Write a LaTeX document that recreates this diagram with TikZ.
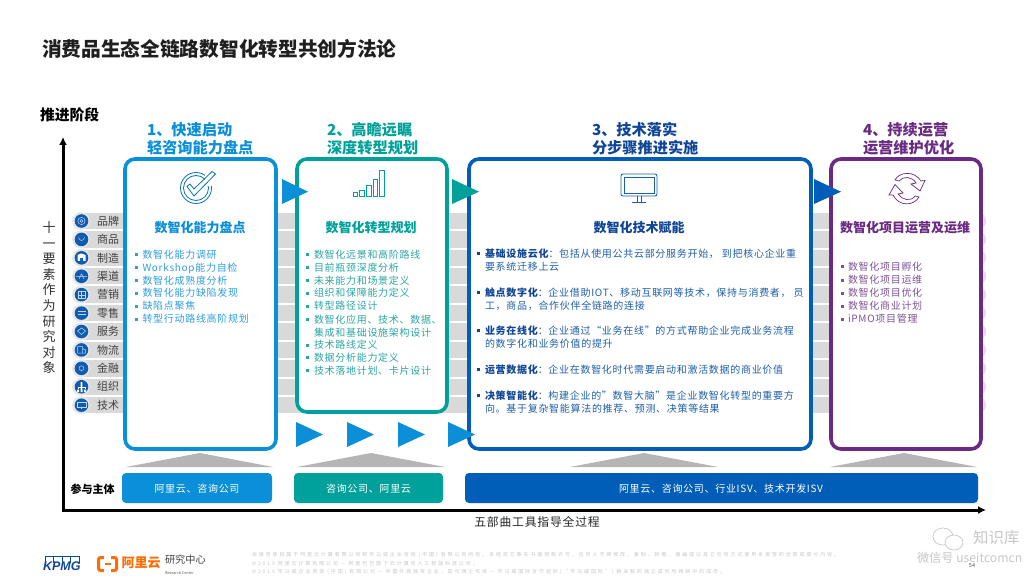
\documentclass[tikz,border=0pt]{standalone}
\usepackage{fontspec}
\setmainfont{Noto Sans CJK SC}
\newfontfamily\lsp[LetterSpace=7]{Noto Sans CJK SC}
\newfontfamily\lspw[LetterSpace=7]{Noto Sans CJK SC}
\newfontfamily\lsf[LetterSpace=38]{Noto Sans CJK SC}
\newfontfamily\kpfont{Liberation Sans}
\usetikzlibrary{arrows.meta}
\definecolor{cA}{HTML}{0A8FD8}
\definecolor{cB}{HTML}{00A19A}
\definecolor{cC}{HTML}{005EB8}
\definecolor{cD}{HTML}{6A2A82}
\definecolor{tA}{HTML}{2F9FDC}
\definecolor{tB}{HTML}{2BA6A0}
\definecolor{tC}{HTML}{1F5FA8}
\definecolor{tD}{HTML}{7E5396}
\definecolor{dC}{HTML}{0F4596}
\definecolor{strip}{HTML}{D9D9D9}
\definecolor{gtri}{HTML}{B5B5B5}
\definecolor{ring}{HTML}{E6E6E6}
\definecolor{iconb}{HTML}{0F5CB0}
\tikzset{
  txt/.style={inner sep=0pt,outer sep=0pt,text height=.82em,text depth=.08em},
  lft/.style={txt,anchor=west},
  stage/.style={lft,font=\bfseries\fontsize{15.2}{16}\selectfont},
  head/.style={txt,font=\bfseries\fontsize{13}{14}\selectfont},
  item/.style={lft,font=\lsp\fontsize{10}{12}\selectfont},
  itemw/.style={lft,font=\lspw\fontsize{10}{12}\selectfont},
  bigbox/.style={draw,line width=3.6pt,rounded corners=10pt,fill=white},
  arrowtri/.style={fill,draw=none},
  grayup/.style={fill=gtri,draw=none},
  actor/.style={rounded corners=4pt,draw=none},
  axis/.style={line width=3pt,black,-{Latex[length=8pt,width=8pt]}},
  rowlbl/.style={lft,font=\fontsize{11}{12}\selectfont,text=black!75},
  ico/.style={white,line width=.5pt,opacity=.75},
  foot/.style={lft,font=\lsf\fontsize{5}{6}\selectfont,text=black!22},
}
\begin{document}
\begin{tikzpicture}[x=1pt,y=-1pt]
\useasboundingbox[fill=white] (0,0) rectangle (1031,588);
% title
\node[lft,font=\bfseries\fontsize{19.7}{22}\selectfont,text=black!88] (title) at (42,52.5) {消费品生态全链路数智化转型共创方法论};
\node[lft,font=\bfseries\fontsize{14.8}{16}\selectfont] (stagehead) at (40,117) {推进阶段};
% vertical label
\foreach \c [count=\n from 0] in {十,一,要,素,作,为,研,究,对,象}
  \node[txt,font=\fontsize{13}{14}\selectfont,text=black!80] (v\n) at (49,{229+15.55*\n}) {\c};
% strips
\foreach \c [count=\n from 0] in {品牌,商品,制造,渠道,营销,零售,服务,物流,金融,组织,技术}{
  \fill[strip!85!white] ({986-8},{221+18.42*\n-8.2}) arc (-90:90:8.2) -- cycle;
  \fill[strip] (80,{221+18.42*\n-8.2}) rectangle (979,{221+18.42*\n+8.2});
  \fill[ring] (81,{221+18.42*\n}) circle (8.9);
  \fill[iconb] (81.5,{221+18.42*\n}) circle (6.8);
  \node[rowlbl] (row\n) at (97,{221.5+18.42*\n}) {\c};
}
% small icons in the row discs
\draw[ico] (81.5,221) circle (3.6) (81.5,221) circle (1.6);
\draw[ico] (78.5,237.5) .. controls (80,241.5) and (83,241.5) .. (84.5,237.5);
\fill[white] (77.5,261) -- (77.5,255) -- (81,253.5) -- (85.5,255) -- (85.5,261) -- (83,261) -- (83,258) -- (80,258) -- (80,261) -- cycle;
\draw[ico] (76,276.3) -- (87,276.3) (79,279) -- (81.5,274) -- (84,279);
\draw[ico] (78,291.5) rectangle (85,298.5) (81.5,291.5) -- (81.5,298.5) (78,295) -- (85,295);
\draw[ico] (77.5,311.5) -- (85.5,311.5) (77.5,314.5) -- (85.5,314.5);
\draw[ico] (77.5,331) -- (81.5,328) -- (85.5,331) -- (81.5,334.5) -- cycle;
\draw[ico] (77.5,346.5) rectangle (82.5,353) (82.5,348.5) -- (85.5,350) -- (85.5,353) -- (82.5,353);
\draw[ico] (81.5,368.2) circle (2.4);
\fill[white] (80.7,382) rectangle (82.3,390.5) (77,389.5) rectangle (79,392) (84,389.5) rectangle (86,392) (80.5,389.5) rectangle (82.5,392);
\draw[white,line width=.5pt] (78,389) -- (78,387) -- (85,387) -- (85,389);
\draw[ico] (77,402) rectangle (86,407.5) (81.5,407.5) -- (81.5,409);
% big boxes
\node[bigbox,draw=cA,minimum width=151pt,minimum height=290pt,inner sep=0pt] (boxA) at (200.5,304) {};
\node[bigbox,draw=cB,minimum width=150pt,minimum height=253pt,inner sep=0pt] (boxB) at (372,285.5) {};
\node[bigbox,draw=cC,minimum width=342pt,minimum height=290pt,inner sep=0pt] (boxC) at (640,304) {};
\node[bigbox,draw=cD,minimum width=150pt,minimum height=290pt,inner sep=0pt] (boxD) at (906,304) {};
% stage titles
\node[stage,text=cA] (sA1) at (147,131.5) {1、快速启动};
\node[stage,text=cA] (sA2) at (147,150) {轻咨询能力盘点};
\node[stage,text=cB] (sB1) at (327,131.5) {2、高瞻远瞩};
\node[stage,text=cB] (sB2) at (327,150) {深度转型规划};
\node[stage,text=dC] (sC1) at (592,131.5) {3、技术落实};
\node[stage,text=dC] (sC2) at (592,150) {分步骤推进实施};
\node[stage,text=cD] (sD1) at (863,131.5) {4、持续运营};
\node[stage,text=cD] (sD2) at (863,150) {运营维护优化};
% arrow triangles
\fill[arrowtri,cA] (282,179) -- (308,191.7) -- (282,204) -- cycle;
\fill[arrowtri,cB] (452,179) -- (479,191.7) -- (452,204) -- cycle;
\fill[arrowtri,cC] (814,179) -- (841,191.7) -- (814,204) -- cycle;
\foreach \x in {296,347,398,448}
  \fill[arrowtri,cA] (\x,422) -- (\x+27,434.5) -- (\x,447) -- cycle;
% gray up triangles
\fill[grayup] (126,467) -- (200,453) -- (273,467) -- cycle;
\fill[grayup] (297,467) -- (371,453) -- (445,467) -- cycle;
\fill[grayup] (570,467) -- (644,453) -- (718,467) -- cycle;
\fill[grayup] (830,467) -- (904,453) -- (977,467) -- cycle;
% icons in boxes
\begin{scope}[cA!85!black]
  \draw[line width=.8pt,cA!80!black] (196,188) circle (15.5) (196,188) circle (12.5);
  \fill[white] (205,170) rectangle (218,186);
  \draw[line width=.8pt,cA!80!black,line join=round] (187,186.5) -- (190,184) -- (194,189) -- (212,171.5) -- (215.5,174) -- (194,196) -- cycle;
\end{scope}
\foreach \a/\b/\t in {353/357/192,359.5/364/190,366/371/185,373/377/179,379/384/170}
  \draw[line width=.7pt,cB] (\a,\t) rectangle (\b,196.5);
\draw[line width=.9pt,tC,rounded corners=2pt] (621,174) rectangle (657,196);
\draw[line width=.6pt,tC] (624,177) rectangle (654,193);
\draw[line width=.9pt,tC] (637,196) -- (637,202) (641,196) -- (641,202) (632,202.5) -- (646,202.5);
% cycle icon
\draw[line width=.7pt,cD] (895,180) .. controls (899,172) and (914,170) .. (921,181) -- (925,180.5) -- (920,191) -- (911,184) -- (916,183) .. controls (912,176) and (903,176) .. (899,181) -- cycle;
\draw[line width=.7pt,cD] (919,197) .. controls (914,206) and (899,207) .. (893,195) -- (889,195) -- (895,184.5) -- (903,193) -- (898,194) .. controls (902,200) and (911,202) .. (915,196) -- cycle;
% headings
\node[head,text=cA] (hA) at (200,229) {数智化能力盘点};
\node[head,text=cB] (hB) at (371,229) {数智化转型规划};
\node[head,text=dC] (hC) at (639,229) {数智化技术赋能};
\node[head,text=cD] (hD) at (905,229) {数智化项目运营及运维};
% list A
\foreach \y/\t [count=\n] in {254.5/数智化能力调研,267.5/Workshop能力自检,280.5/数智化成熟度分析,293.2/数智化能力缺陷发现,306/缺陷点聚焦,319/转型行动路线高阶规划}{
  \fill[tA] (135,\y-1.5) rectangle +(3,3);
  \node[item,text=tA] (la\n) at (142.5,\y) {\t};
}
% list B
\foreach \y/\t [count=\n] in {254.5/数智化远景和高阶路线,267.5/目前瓶颈深度分析,280.5/未来能力和场景定义,293.2/组织和保障能力定义,306/转型路径设计,319.5/数智化应用、技术、数据、,345/技术路线定义,357.5/数据分析能力定义,370.5/技术落地计划、卡片设计}{
  \fill[tB] (306,\y-1.5) rectangle +(3,3);
  \node[item,text=tB] (lb\n) at (314,\y) {\t};
}
\node[item,text=tB] (lbx) at (314,332.5) {集成和基础设施架构设计};
% list C
\foreach \y/\b/\t [count=\n] in {253.5/基础设施云化/：包括从使用公共云部分服务开始， 到把核心企业重,292.5/触点数字化/：企业借助IOT、移动互联网等技术，保持与消费者， 员,330.5/业务在线化/：企业通过“业务在线”的方式帮助企业完成业务流程,369.5/运营数据化/：企业在数智化时代需要启动和激活数据的商业价值,395.5/决策智能化/：构建企业的”数智大脑”是企业数智化转型的重要方}{
  \fill[dC] (477,\y-1.5) rectangle +(3,3);
  \node[itemw,text=tC] (lc\n) at (485,\y) {{\bfseries\color{dC}\b}\t};
}
\node[itemw,text=tC] (lc1b) at (485,266.5) {要系统迁移上云};
\node[itemw,text=tC] (lc2b) at (485,305.5) {工，商品，合作伙伴全链路的连接};
\node[itemw,text=tC] (lc3b) at (485,343.5) {的数字化和业务价值的提升};
\node[itemw,text=tC] (lc5b) at (485,408.5) {向。基于复杂智能算法的推荐、预测、决策等结果};
% list D
\foreach \y/\t [count=\n] in {267/数智化项目孵化,280/数智化项目运维,293/数智化项目优化,306/数智化商业计划,319/iPMO项目管理}{
  \fill[tD] (841,\y-1.5) rectangle +(3,3);
  \node[item,text=tD] (ld\n) at (848,\y) {\t};
}
% actor bars
\node[txt,font=\bfseries\fontsize{11}{12}\selectfont] (actors) at (92.5,489.5) {参与主体};
\fill[actor,cA] (122,473) rectangle (272,503);
\coordinate (barA) at (197,488.5);
\fill[actor,cB] (294,473) rectangle (443,503);
\coordinate (barB) at (368.5,488.5);
\fill[actor,cC] (465,473) rectangle (978,503);
\coordinate (barC) at (721,488.5);
\node[txt,font=\lsp\fontsize{10}{12}\selectfont,text=white] (ta) at (barA) {阿里云、咨询公司};
\node[txt,font=\lsp\fontsize{10}{12}\selectfont,text=white] (tb) at (barB) {咨询公司、阿里云};
\node[txt,font=\lsp\fontsize{10}{12}\selectfont,text=white] (tc) at (barC) {阿里云、咨询公司、行业ISV、技术开发ISV};
% axes
\coordinate (origin) at (63,510);
\coordinate (ytip) at (63,137);
\coordinate (xtip) at (986,510);
\draw[axis] (63,511.5) -- (ytip);
\draw[axis] (61.5,510) -- (xtip);
\node[txt,font=\lsp\fontsize{11.8}{14}\selectfont,text=black!85] (tools) at (537,522.5) {五部曲工具指导全过程};
% footer text
\node[foot] (f1) at (252,552.5) {本报告版权属于阿里云计算有限公司和毕马威企业咨询 (中国) 有限公司所有，未经双方事先书面授权许可，任何人不得修改、复制、转载、摘编或以其它任何方式使用本报告的全部或部分内容。};
\node[foot] (f2) at (252,562) {©2019 阿里云计算有限公司 — 阿里巴巴旗下云计算及人工智能科技公司。};
\node[foot] (f3) at (252,570) {©2019 毕马威企业咨询 (中国) 有限公司 — 中国外商独资企业，是与瑞士实体 — 毕马威国际合作组织(“毕马威国际”) 相关联的独立成员所网络中的成员。};
% KPMG
\foreach \x in {45,53.5,62,70.5}
  \draw[line width=.4pt,cC!80!black] (\x,556) rectangle +(8.5,7);
\node[lft,font=\kpfont\bfseries\itshape\fontsize{12.5}{13}\selectfont,text=dC,fill=white,inner xsep=0pt] (kpmg) at (43,567) {KPMG};
% Alibaba
\draw[line width=3pt,orange!85!red,rounded corners=2pt] (104,557.5) -- (98.5,557.5) -- (98.5,570.5) -- (104,570.5);
\draw[line width=3pt,orange!85!red,rounded corners=2pt] (111,557.5) -- (116.5,557.5) -- (116.5,570.5) -- (111,570.5);
\draw[line width=1.5pt,orange!85!red] (104.5,564) -- (110.5,564);
\node[lft,font=\bfseries\fontsize{13}{14}\selectfont,text=orange!85!red] (ali) at (121.5,564) {阿里云};
\node[lft,font=\fontsize{10.2}{12}\selectfont,text=black!75] (rc) at (165,560) {研究中心};
\node[lft,font=\fontsize{3.8}{5}\selectfont,text=black!65] (rc2) at (165,570.3) {Research Center};
% watermark
\draw[line width=.7pt,black!22,fill=white] (943,536.5) ellipse (10 and 8.5);
\draw[line width=.7pt,black!22,fill=white] (954,542.5) ellipse (9 and 7.5);
\node[lft,font=\fontsize{15.5}{16}\selectfont,text=black!22] (wm1) at (973,540) {知识库};
\node[lft,font=\fontsize{12.2}{14}\selectfont,text=black!22] (wm2) at (917,559) {微信号 useitcomcn};
\node[txt,font=\fontsize{5.5}{6}\selectfont,text=black!70] (pg) at (972,564) {54};
\end{tikzpicture}
\end{document}
